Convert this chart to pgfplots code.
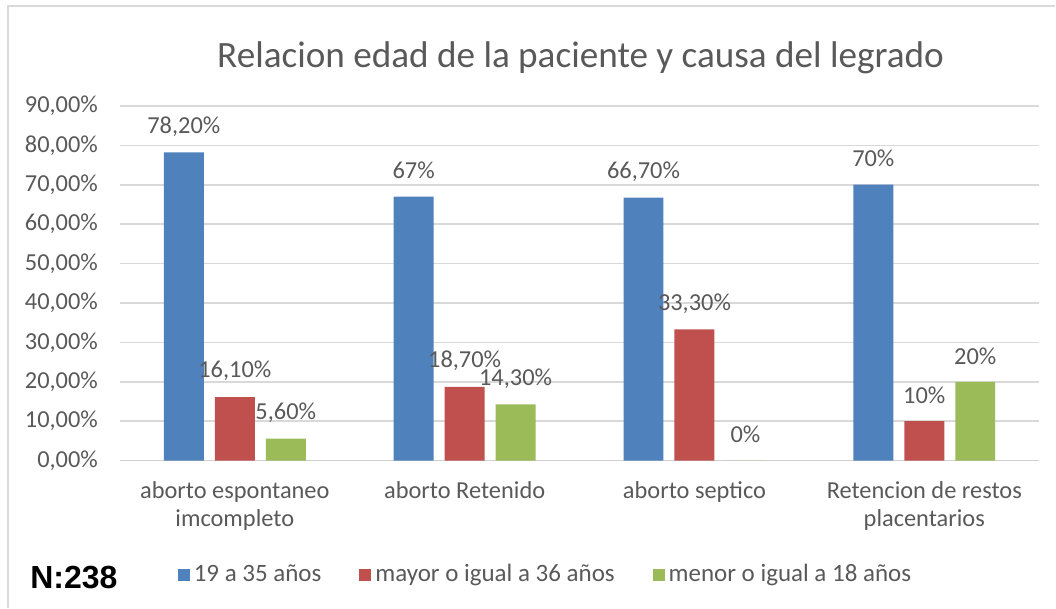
\documentclass[border=0pt]{standalone}
\usepackage{pgfplots}
\pgfplotsset{compat=1.18}
\usepackage{fontspec}
\setmainfont{Carlito}
\newfontfamily\arialfont{Liberation Sans}
\definecolor{cblue}{HTML}{4F81BD}
\definecolor{cred}{HTML}{C0504D}
\definecolor{cgreen}{HTML}{9BBB59}
\definecolor{txtgray}{HTML}{595959}
\definecolor{gridgray}{HTML}{D9D9D9}
\definecolor{axgray}{HTML}{D0D0D0}

\begin{document}
\begin{tikzpicture}[x=1pt,y=1pt]
% page frame (1px = 0.5pt)
\path (0,0) rectangle (528,304);
\draw[gridgray, line width=0.8pt] (4,0) -- (4,301) -- (528,301);
\node[text=txtgray, font=\fontsize{18.6}{22}\selectfont] at (290.5,275)
  {Relacion edad de la paciente y causa del legrado};
\node[anchor=west, inner sep=0pt, font=\arialfont\bfseries\fontsize{16}{19}\selectfont] at (15,15) {N:238};

\begin{axis}[
  at={(60pt,73.5pt)}, anchor=south west,
  scale only axis, width=460pt, height=177.5pt,
  ybar=5.5pt, bar width=20pt,
  xmin=-0.5, xmax=3.5, ymin=0, ymax=90,
  axis x line*=bottom, axis y line*=left,
  x axis line style={draw=axgray, line width=0.8pt},
  y axis line style={draw=none},
  major tick length=0pt,
  xtick={0,1,2,3},
  xticklabels={{aborto espontaneo\\imcompleto},{aborto Retenido},{aborto septico},{Retencion de restos\\placentarios}},
  xticklabel style={align=center, text=txtgray, font=\fontsize{12.2}{14}\selectfont, yshift=-7pt},
  ytick={0,10,...,90},
  yticklabels={{0,00\%},{10,00\%},{20,00\%},{30,00\%},{40,00\%},{50,00\%},{60,00\%},{70,00\%},{80,00\%},{90,00\%}},
  yticklabel style={text=txtgray, font=\fontsize{12.2}{14}\selectfont, xshift=-7.5pt},
  ymajorgrids, grid style={gridgray, line width=0.8pt},
  nodes near coords, point meta=explicit symbolic,
  every node near coord/.append style={anchor=center, yshift=13pt, text=txtgray, font=\fontsize{12.2}{14}\selectfont},
  legend columns=3,
  legend cell align=left,
  legend image code/.code={\fill[#1] (0pt,-3pt) rectangle (6pt,3pt);},
  legend style={at={(0.464,-0.321)}, anchor=center, draw=none, fill=none,
    text=txtgray, font=\fontsize{12.5}{15}\selectfont,
    /tikz/every even column/.append style={column sep=17pt}},
]
\addplot[fill=cblue, draw=none] coordinates {
  (0,78.2) [78,20\%]
  (1,67)   [67\%]
  (2,66.7) [66,70\%]
  (3,70)   [70\%]
};
\addlegendentry{19 a 35 años}
\addplot[fill=cred, draw=none] coordinates {
  (0,16.1) [16,10\%]
  (1,18.7) [18,70\%]
  (2,33.3) [33,30\%]
  (3,10)   [10\%]
};
\addlegendentry{mayor o igual a 36 años}
\addplot[fill=cgreen, draw=none] coordinates {
  (0,5.6)  [5,60\%]
  (1,14.3) [14,30\%]
  (2,0)    [0\%]
  (3,20)   [20\%]
};
\addlegendentry{menor o igual a 18 años}
\end{axis}
\end{tikzpicture}
\end{document}
